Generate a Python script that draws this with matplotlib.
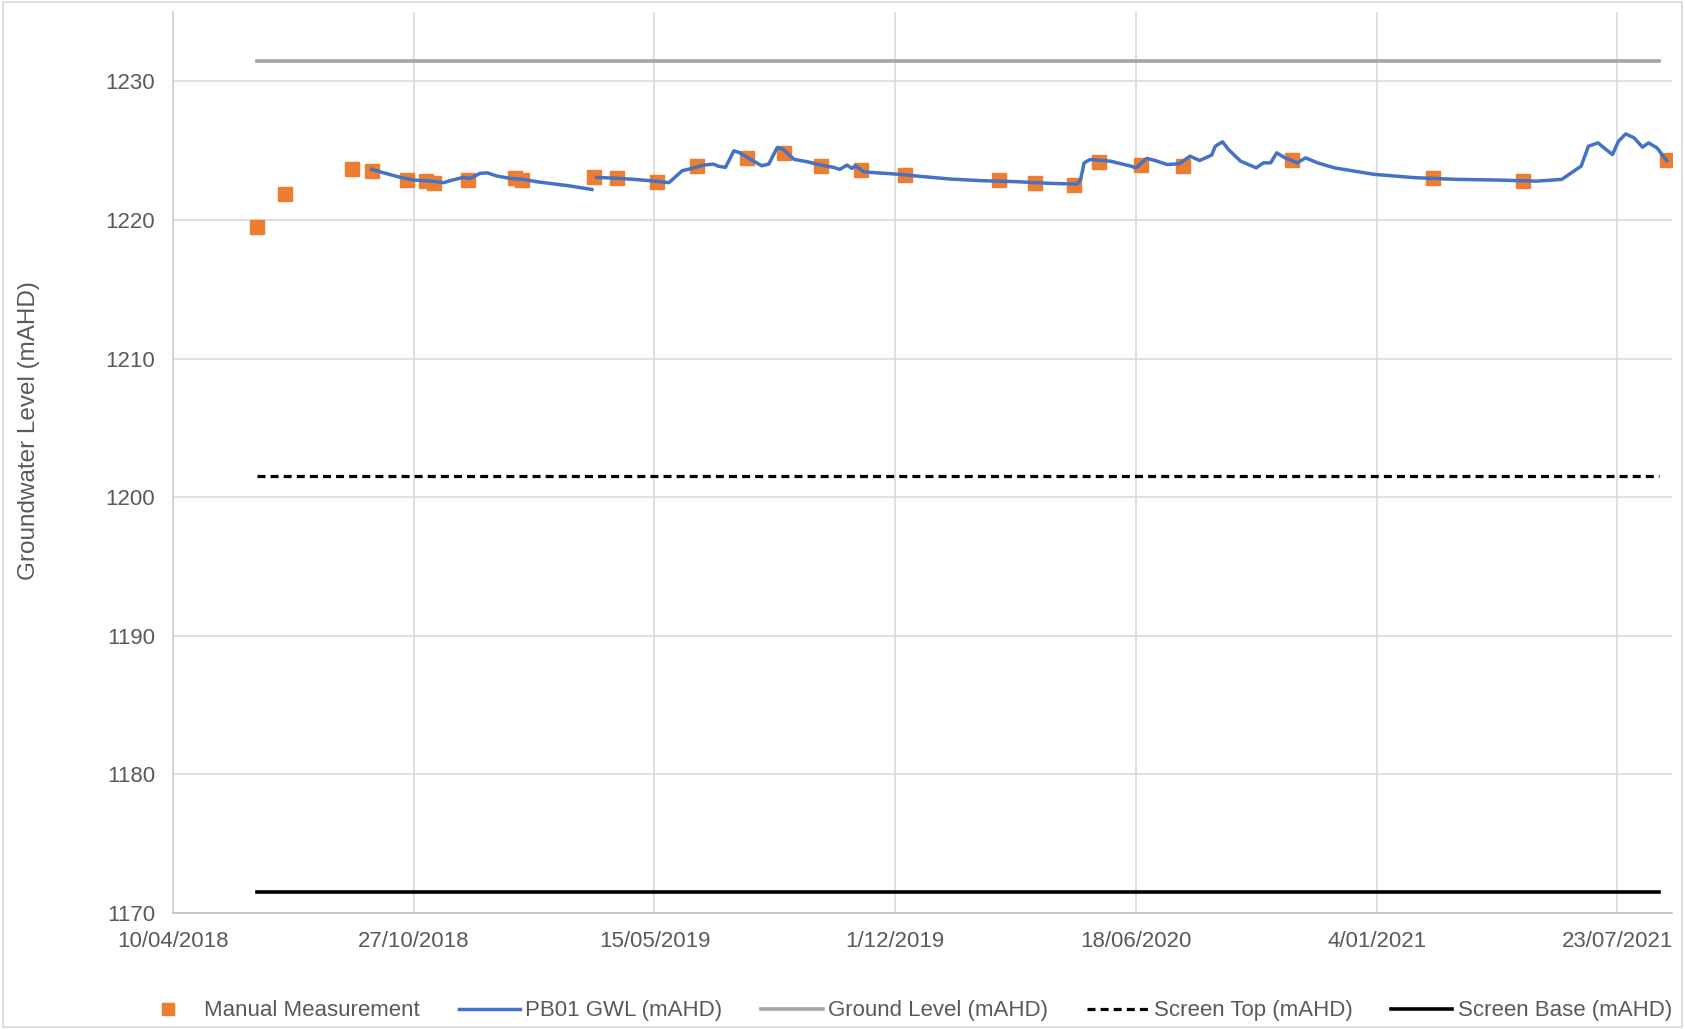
import pandas as pd
import matplotlib.pyplot as plt
from matplotlib.patches import Rectangle

plt.rcParams['font.family'] = ['Liberation Sans', 'DejaVu Sans']

# Ручные замеры уровня
manual_dates = ['2018-06-19', '2018-07-12', '2018-09-06', '2018-09-22', '2018-10-21',
                '2018-11-06', '2018-11-13', '2018-12-11', '2019-01-19', '2019-01-25',
                '2019-03-26', '2019-04-14', '2019-05-17', '2019-06-19', '2019-07-31',
                '2019-08-31', '2019-09-30', '2019-11-03', '2019-12-09', '2020-02-25',
                '2020-03-26', '2020-04-28', '2020-05-18', '2020-06-22', '2020-07-27',
                '2020-10-26', '2021-02-20', '2021-05-06', '2021-09-02']
manual_levels = [1219.5, 1221.9, 1223.7, 1223.5, 1222.9, 1222.8, 1222.7, 1222.9, 1223.0,
                 1222.9, 1223.1, 1223.05, 1222.75, 1223.9, 1224.5, 1224.85, 1223.9, 1223.6,
                 1223.25, 1222.85, 1222.65, 1222.5, 1224.15, 1224.0, 1223.9, 1224.3, 1223.0,
                 1222.8, 1224.3]

# Логгер PB01 (дни от 10/04/2018), None = разрыв
start = pd.Timestamp('2018-04-10')
logger_days = [165, 175, 189, 200, 214, 225, 230, 241, 247, 255, 261, 269, 280, 291, 302,
               313, 330, 348, 350,
               352, 370, 383, 399, 412, 416, 423, 431, 441, 449, 453, 459, 466, 471, 480,
               489, 495, 502, 507, 516, 527, 538, 549, 554, 560, 564, 567, 574, 585, 604,
               618, 646, 673, 701, 729, 751, 754, 757, 762, 779, 796, 800, 809, 816, 826,
               836, 845, 853, 863, 866, 872, 877, 887, 900, 906, 912, 917, 924, 934, 941,
               951, 965, 998, 1032, 1066, 1100, 1133, 1154, 1164, 1170, 1176, 1184, 1189,
               1196, 1201, 1207, 1214, 1221, 1226, 1233, 1241]
logger_levels = [1223.65, 1223.4, 1223.07, 1222.88, 1222.81, 1222.69, 1222.83, 1223.07, 1223.0,
                 1223.36, 1223.4, 1223.17, 1223.0, 1222.93, 1222.76, 1222.64, 1222.45, 1222.2,
                 None,
                 1223.07, 1223.0, 1222.93, 1222.81, 1222.69, 1223.0, 1223.55, 1223.72, 1223.96,
                 1224.03, 1223.88, 1223.79, 1224.99, 1224.84, 1224.37, 1223.91, 1224.03,
                 1225.23, 1225.09, 1224.37, 1224.2, 1223.96, 1223.79, 1223.65, 1223.96,
                 1223.72, 1223.91, 1223.47, 1223.4, 1223.29, 1223.17, 1222.95, 1222.83,
                 1222.76, 1222.64, 1222.59, 1222.88, 1224.12, 1224.36, 1224.24, 1223.88,
                 1223.76, 1224.44, 1224.29, 1224.0, 1224.05, 1224.6, 1224.29, 1224.68,
                 1225.32, 1225.64, 1225.08, 1224.24, 1223.76, 1224.12, 1224.12, 1224.84,
                 1224.48, 1224.12, 1224.48, 1224.12, 1223.76, 1223.29, 1223.05, 1222.93,
                 1222.88, 1222.8, 1222.93, 1223.53, 1223.88, 1225.32, 1225.56, 1225.2,
                 1224.72, 1225.68, 1226.21, 1225.92, 1225.25, 1225.56, 1225.2, 1224.29]

# Постоянные уровни скважины
line_dates = ['2018-06-19', '2021-08-27']
ground_level = 1231.5
screen_top = 1201.5
screen_base = 1171.5

tick_labels = ['10/04/2018', '27/10/2018', '15/05/2019', '1/12/2019',
               '18/06/2020', '4/01/2021', '23/07/2021']

manual_x = pd.to_datetime(manual_dates)
logger_x = start + pd.to_timedelta(logger_days, unit='D')
logger_y = [float('nan') if v is None else v for v in logger_levels]
line_x = pd.to_datetime(line_dates)

fig = plt.figure(figsize=(16.85, 10.29), dpi=100)
ax = fig.add_axes([0.1027, 0.1127, 0.8896, 0.8756])

ax.plot(manual_x, manual_levels, 's', color='#ED7D31', ms=10, ls='none',
        label='Manual Measurement', zorder=3)
ax.plot(logger_x, logger_y, color='#4472C4', lw=2.5, label='PB01 GWL (mAHD)', zorder=4)
ax.plot(line_x, [ground_level] * 2, color='#A5A5A5', lw=2.6, label='Ground Level (mAHD)')
ax.plot(line_x, [screen_top] * 2, color='black', lw=2.3, ls=(0, (2.5, 1.6)),
        label='Screen Top (mAHD)')
ax.plot(line_x, [screen_base] * 2, color='black', lw=2.6, label='Screen Base (mAHD)')

ax.set_ylim(1170, 1235)
ax.set_yticks(range(1170, 1231, 10))
ticks = [start + pd.Timedelta(days=200 * k) for k in range(len(tick_labels))]
ax.set_xticks(ticks)
ax.set_xticklabels(tick_labels)
ax.set_xlim(start, start + pd.Timedelta(days=1245.5))

ax.grid(True, color='#D9D9D9', lw=1.2)
ax.set_axisbelow(True)
for s in ['top', 'right']:
    ax.spines[s].set_visible(False)
ax.spines['left'].set_color('#D0D0D0')
ax.spines['bottom'].set_color('#BFBFBF')
ax.spines['left'].set_linewidth(1.2)
ax.spines['bottom'].set_linewidth(1.2)
ax.tick_params(axis='both', length=0, labelsize=16, labelcolor='#595959')
ax.tick_params(axis='y', pad=13)
ax.tick_params(axis='x', pad=13)

ax.set_ylabel('Groundwater Level (mAHD)', fontsize=17.5, color='#595959')
ax.yaxis.set_label_coords(-0.089, 0.536)

fig.legend(loc='lower center', bbox_to_anchor=(0.537, -0.012), ncol=5, frameon=False,
           fontsize=16, labelcolor='#595959', handlelength=2.75, columnspacing=1.75,
           handletextpad=0.25, markerscale=0.9)

fig.patches.append(Rectangle((0.002, 0.002), 0.996, 0.996, transform=fig.transFigure,
                             fill=False, edgecolor='#D9D9D9', lw=1.2))

plt.savefig('out.png', dpi=100)
